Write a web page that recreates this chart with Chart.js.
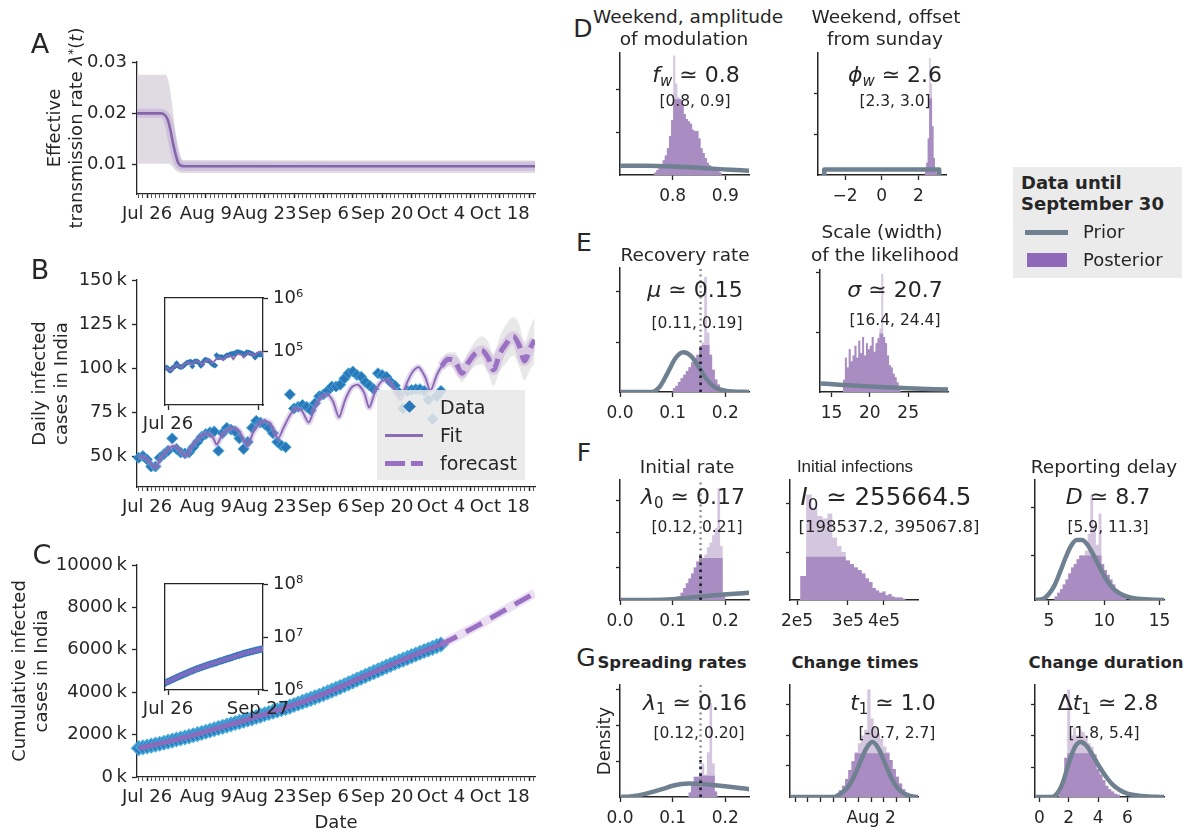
<!DOCTYPE html>
<html>
<head>
<meta charset="utf-8">
<script src="https://cdn.jsdelivr.net/npm/chart.js@4.4.0/dist/chart.umd.min.js"></script>
<style>
  body { margin: 0; background: #fff; }
  #fig { position: relative; width: 1197px; height: 834px; overflow: hidden;
         font-family: 'DejaVu Sans', sans-serif; color: #262626; }
  #fig canvas { position: absolute; }
  sub { font-size: 68%; vertical-align: -0.28em; line-height: 0; }
  sup { font-size: 68%; vertical-align: 0.45em; line-height: 0; }
</style>
</head>
<body>
<div id="fig"></div>
<script>
// ---------- left column, x = days after Jul 26 ----------
const dateLabels = ['Jul 26', 'Aug 9', 'Aug 23', 'Sep 6', 'Sep 20', 'Oct 4', 'Oct 18'];

// A: effective transmission rate
const rateDays      = [-2.4, 3.2, 4.2, 4.9, 5.5, 6.1, 6.8, 7.4, 8.1, 9.0, 92.4];
const rateMedian    = [0.0200, 0.0200, 0.0197, 0.0188, 0.0170, 0.0145, 0.0120, 0.0104, 0.0098, 0.0097, 0.0097];
const rateBandDays  = [-2.4, 4.3, 5.1, 6.0, 6.8, 7.6, 8.6, 92.4];
const rateBandUpper = [0.0275, 0.0275, 0.0262, 0.0215, 0.0160, 0.0122, 0.0109, 0.0108];
const rateBandLower = [0.0102, 0.0102, 0.0102, 0.0097, 0.0089, 0.0085, 0.0084, 0.0084];
const rateTicks  = [0.01, 0.02, 0.03];
const rateLabels = ['0.01', '0.02', '0.03'];

// B: daily new cases (thousands), one value per day starting two days before Jul 26
const firstDay = -2;
const dailyCases = [49, 50, 48, 44, 44, 49, 51, 53, 60, 54,
  52, 51.5, 52, 55, 58, 61, 62.5, 63.5, 64, 53,
  63, 66, 65, 64, 60, 54, 58, 66, 70, 69,
  68, 66, 63, 58, 56, 55, 85, 77, 78, 79,
  78, 76, 80, 84, 85, 87, 89.5, 89.5, 90.5, 94,
  97, 98, 96, 95, 92, 90, 88, 97, 96, 95,
  92, 90, 86, 77, 87, 87.5, 88, 88, 87, 82,
  71, 84, 87];
const fitDays  = [-2, -0.5, 0.6, 2.1, 3.3, 4.7, 5.9, 7.0, 8.3, 9.4, 10.5, 11.9, 13.3, 14.7, 15.8, 16.6, 17.9, 19.3,
  20.7, 22.0, 23.9, 25.2, 26.6, 28.0, 29.4, 31.2, 32.5, 34.0, 35.4, 36.9, 38.5, 39.9, 41.4, 42.9, 44.3, 45.7,
  47.2, 48.7, 50.2, 51.7, 52.9, 54.4, 55.9, 57.4, 58.9, 60.4, 61.8, 63.3, 64.7, 66.2, 67.5, 69.0, 70.1];
const fitCases = [50, 49, 46.5, 43.5, 49, 53, 55.5, 55, 52, 50, 55, 59, 62, 62.5, 60, 56.5, 62, 65,
  66, 64, 56, 63, 68, 70, 68.5, 60, 66, 73, 77, 75.5, 69, 77, 83, 85, 81, 72,
  82, 89, 90.5, 86, 77.5, 87, 92.5, 93, 88, 82, 91, 98, 100.5, 95, 87, 96, 101];
const forecastDays  = [70.1, 71.7, 73.3, 75.0, 76.5, 78.1, 79.7, 81.2, 82.5, 84.0, 85.6, 87.2, 88.6, 89.9, 91.2, 92.3];
const forecastCases = [101, 105, 104, 97, 103, 108, 110, 106, 99, 108, 114, 118, 113, 104, 111, 116];
const forecastUpper = [104, 109, 109, 102, 109, 115, 118, 115, 108, 118, 125, 129, 125, 115, 123, 129];
const forecastLower = [98, 101, 99, 92, 97, 101, 102, 97, 90, 98, 103, 107, 101, 93, 99, 103];
const casesTicks  = [50, 75, 100, 125, 150];
const casesLabels = ['50\u2009k', '75\u2009k', '100\u2009k', '125\u2009k', '150\u2009k'];

// C: cumulative cases (thousands), same days as dailyCases
const cumCases = [1360, 1398, 1440, 1482, 1525, 1570, 1615, 1667, 1718, 1768,
  1818, 1866, 1915, 1967, 2020, 2077, 2136, 2195, 2254, 2310,
  2367, 2424, 2485, 2545, 2601, 2657, 2710, 2765, 2828, 2893,
  2958, 3021, 3082, 3140, 3198, 3255, 3319, 3394, 3469, 3541,
  3613, 3685, 3758, 3834, 3912, 3992, 4074, 4157, 4241, 4327,
  4417, 4505, 4594, 4682, 4772, 4860, 4945, 5028, 5117, 5205,
  5291, 5375, 5457, 5537, 5617, 5699, 5781, 5862, 5944, 6017,
  6093, 6172, 6252];
const cumFitDays = [-2, 0, 10, 20, 31, 42, 53, 64, 70];
const cumFit     = [1360, 1440, 1915, 2485, 3140, 3912, 4860, 5781, 6252];
const cumForecastDays = [70, 74.3, 78.6, 82.8, 87.1, 92.3];
const cumForecast     = [6252, 6680, 7130, 7600, 8090, 8665];
const cumTicks  = [0, 2000, 4000, 6000, 8000, 10000];
const cumLabels = ['0\u2009k', '2000\u2009k', '4000\u2009k', '6000\u2009k', '8000\u2009k', '10000\u2009k'];

// insets (log scale)
const insetTicks   = [0, 63];
const insetLabelsB = ['Jul 26', ''];
const insetLabelsC = ['Jul 26', 'Sep 27'];

// ---------- right block: posterior histograms (height in % of panel) and priors ----------
const fwHist   = [2, 4, 6, 9, 12, 16, 22, 32, 45, 98, 75, 64, 62, 58, 50, 46, 44, 42, 37, 36, 36, 30, 22, 18, 14, 10, 8, 6, 5, 4, 3, 2];
const fwPriorX = [0.70, 0.75, 0.80, 0.85, 0.90, 0.945];
const fwPriorY = [7.5, 7.5, 7, 6, 4.5, 3.5];

const phiHist   = [3, 10, 30, 96, 75, 40, 14, 5, 2];
const phiPriorX = [-3.14, -3.14, 3.14, 3.14];
const phiPriorY = [0, 4.5, 4.5, 0];

const muHist   = [3, 5, 8, 11, 14, 17, 20, 24, 27, 30, 34, 40, 93, 48, 30, 18, 10, 6, 3];
const muPriorX = [0, 0.06, 0.075, 0.09, 0.105, 0.12, 0.135, 0.15, 0.165, 0.18, 0.2, 0.245];
const muPriorY = [0, 0, 4, 15, 27, 32, 29, 20, 10, 4, 1, 0];

const sigmaHist   = [10, 28, 20, 35, 25, 30, 38, 28, 42, 32, 45, 30, 40, 35, 38, 45, 33, 40, 44, 52, 97, 45, 40, 30, 22, 20, 15, 12, 8, 5];
const sigmaPriorX = [13.5, 16, 20, 25, 30.2];
const sigmaPriorY = [7, 6, 4.5, 3, 2];

const lam0Hist   = [3, 6, 10, 14, 18, 22, 27, 32, 38, 35, 38, 44, 48, 54, 60, 93, 45, 6];
const lam0PriorX = [0, 0.08, 0.1, 0.12, 0.15, 0.18, 0.21, 0.245];
const lam0PriorY = [0, 0.2, 0.6, 1.5, 2.8, 4, 5, 6];

const i0Hist = [20, 88, 77, 70, 68, 72, 52, 45, 40, 33, 30, 27, 25, 22, 18, 15, 10, 8, 6, 7, 4, 5, 3, 2, 2, 2, 1];

const delayHist   = [3, 6, 9, 13, 17, 22, 27, 30, 34, 37, 37, 41, 55, 88, 62, 46, 72, 30, 25, 21, 17, 13, 9, 6, 4, 2];
const delayPriorX = [3.75, 4.5, 5, 5.5, 6, 6.5, 7, 7.5, 8, 8.5, 9, 9.5, 10, 10.5, 11, 12, 13, 15.4];
const delayPriorY = [0, 1, 5, 12, 23, 35, 45, 50, 50, 46, 38, 29, 20, 13, 8, 3, 1, 0];

const lam1Hist   = [4, 10, 18, 18, 22, 30, 20, 40, 84, 30, 5];
const lam1PriorX = [0, 0.02, 0.05, 0.08, 0.1, 0.13, 0.16, 0.19, 0.22, 0.245];
const lam1PriorY = [0, 0.5, 3, 7, 10, 12, 11.5, 10, 8.5, 7];

// change time, in days after Jul 26 (Aug 2 = day 7)
const t1Hist   = [3, 6, 10, 16, 24, 32, 40, 48, 55, 60, 96, 70, 62, 57, 52, 45, 40, 33, 25, 18, 12, 7, 4];
const t1PriorX = [0.6, 4.1, 4.6, 5.1, 5.6, 6.1, 6.6, 7.1, 7.6, 8.1, 8.6, 9.1, 9.6, 10.1, 10.7];
const t1PriorY = [0, 0, 3, 8, 17, 30, 43, 49, 43, 30, 17, 8, 3, 1, 0];
const t1Ticks  = [1, 2, 3, 4, 5, 6, 7, 8, 9, 10];
const t1Labels = ['', '', '', '', '', '', 'Aug 2', '', '', ''];

const dtHist   = [5, 15, 35, 96, 55, 62, 55, 60, 58, 55, 48, 45, 38, 25, 20, 15, 10, 7, 5, 3, 2];
const dtPriorX = [-0.3, 0.8, 1.2, 1.6, 2, 2.4, 2.8, 3.2, 3.6, 4, 4.5, 5, 5.5, 6, 7, 8.5];
const dtPriorY = [0, 0, 3, 13, 30, 44, 49, 46, 38, 29, 19, 11, 6, 3, 1, 0];

const trueRate = 0.153;

// ---------- helpers ----------
const fig = document.getElementById('fig');
Chart.defaults.font.family = "'DejaVu Sans', sans-serif";
Chart.defaults.color = '#262626';

const INK = '#262626';
const BLUE = '#2a78b8', BLUE_EDGE = '#45a9dc';
const FIT = '#8c6bb5', FORECAST = '#9a70c2';
const PRIOR = '#6f8190', POST_DARK = '#a98cc2', POST_LIGHT = '#d4c6df';

const pts = (xs, ys, k = 1) => xs.map((x, i) => ({ x, y: ys[i] * k }));
const caseDays = dailyCases.map((v, i) => firstDay + i);
const allDays = []; for (let d = -2; d <= 92; d++) allDays.push(d);

function zeroPad(s) { s.paddingTop = s.paddingBottom = s.paddingLeft = s.paddingRight = 0; }

function place(rect, m) {
  const c = document.createElement('canvas');
  const w = rect[2] - rect[0] + m.pl + m.yl + m.yr + m.r;
  const h = rect[3] - rect[1] + m.t + m.xh;
  c.width = w; c.height = h;
  c.style.left = (rect[0] - m.yl - m.pl) + 'px';
  c.style.top = (rect[1] - m.t) + 'px';
  c.style.width = w + 'px'; c.style.height = h + 'px';
  fig.appendChild(c);
  return c;
}

function baseOptions(m, scales) {
  return {
    responsive: false, animation: false, events: [],
    layout: { padding: { left: m.pl, top: m.t, right: m.r, bottom: 0 } },
    plugins: { legend: { display: false }, tooltip: { enabled: false } },
    scales
  };
}

function timeX(h, title) {
  return {
    type: 'linear', min: -2.4, max: 92.4,
    afterBuildTicks: s => { s.ticks = allDays.map(v => ({ value: v })); },
    afterFit: s => { s.height = h; zeroPad(s); },
    grid: { drawOnChartArea: false, tickLength: 4, tickColor: INK,
            tickWidth: c => (c.tick && c.tick.value % 7 === 0 ? 1.5 : 0.8) },
    border: { color: INK, width: 1.3 },
    ticks: { autoSkip: false, maxRotation: 0, padding: 6, font: { size: 18 },
             callback: v => (v >= 0 && v % 14 === 0 ? dateLabels[v / 14] : '') },
    title: title ? { display: true, text: title, font: { size: 18 }, padding: 0 } : { display: false }
  };
}

function valueY(min, max, ticks, labels, width, title) {
  return {
    min, max,
    afterBuildTicks: s => { s.ticks = ticks.map(v => ({ value: v })); },
    afterFit: s => { s.width = width; zeroPad(s); },
    grid: { drawOnChartArea: false, tickLength: 5, tickColor: INK, tickWidth: 1.3 },
    border: { color: INK, width: 1.3 },
    ticks: { padding: 5, font: { size: 18 }, callback: (v, i) => labels[i] },
    title: title ? { display: true, text: title, font: { size: 18, lineHeight: 1.25 }, padding: 0 } : { display: false }
  };
}

function label(html, x, y, css, mode, parent) {
  const d = document.createElement('div');
  d.innerHTML = html;
  d.style.cssText = 'position:absolute;white-space:nowrap;line-height:1.2;' + (css || '');
  d.style.left = x + 'px'; d.style.top = y + 'px';
  d.style.transform = mode === 'left' ? 'translate(0,-50%)'
                    : mode === 'rot' ? 'translate(-50%,-50%) rotate(-90deg)'
                    : 'translate(-50%,-50%)';
  (parent || fig).appendChild(d);
  return d;
}
function box(x, y, w, h, css) {
  const d = document.createElement('div');
  d.style.cssText = `position:absolute;left:${x}px;top:${y}px;width:${w}px;height:${h}px;` + css;
  fig.appendChild(d);
  return d;
}

const whiteBox = {
  id: 'whiteBox',
  beforeDraw(ch) {
    const a = ch.chartArea, ctx = ch.ctx;
    ctx.save(); ctx.fillStyle = '#fff';
    ctx.fillRect(a.left, a.top, a.right - a.left, a.bottom - a.top);
    ctx.restore();
  }
};

// ---------- A ----------
const mA = { pl: 0, yl: 92, yr: 0, r: 25, t: 14, xh: 32 };
new Chart(place([137, 62, 535, 194], mA), {
  type: 'line',
  data: { datasets: [
    { data: pts(rateBandDays, rateBandUpper), fill: '+1', backgroundColor: 'rgba(214,206,216,0.75)',
      borderWidth: 0, pointRadius: 0, cubicInterpolationMode: 'monotone', order: 5 },
    { data: pts(rateBandDays, rateBandLower), fill: false, borderWidth: 0, pointRadius: 0,
      cubicInterpolationMode: 'monotone', order: 6 },
    { data: pts(rateDays, rateMedian), borderColor: 'rgba(160,130,200,0.28)', borderWidth: 9,
      pointRadius: 0, cubicInterpolationMode: 'monotone', order: 2 },
    { data: pts(rateDays, rateMedian), borderColor: '#8466a8', borderWidth: 2.6,
      pointRadius: 0, cubicInterpolationMode: 'monotone', order: 1 }
  ]},
  options: baseOptions(mA, {
    x: timeX(32),
    y: valueY(0.0043, 0.0300, rateTicks, rateLabels, 92, null)
  })
});
label('Effective<br>transmission rate <i>\u03bb</i><sup>*</sup>(<i>t</i>)', 65, 128,
      'font-size:18px;line-height:22px;text-align:center', 'rot');

// ---------- B ----------
const mB = { pl: 0, yl: 108, yr: 0, r: 25, t: 14, xh: 32 };
new Chart(place([137, 280, 535, 487], mB), {
  type: 'line',
  data: { datasets: [
    { data: pts(forecastDays, forecastUpper), fill: '+1', backgroundColor: 'rgba(210,210,210,0.5)',
      borderWidth: 0, pointRadius: 0, cubicInterpolationMode: 'monotone', order: 9 },
    { data: pts(forecastDays, forecastLower), fill: false, borderWidth: 0, pointRadius: 0,
      cubicInterpolationMode: 'monotone', order: 10 },
    { data: pts(forecastDays, forecastCases), borderColor: 'rgba(190,150,215,0.35)', borderWidth: 10,
      pointRadius: 0, cubicInterpolationMode: 'monotone', order: 8 },
    { data: pts(caseDays, dailyCases), showLine: false, pointStyle: 'rectRot', pointRadius: 5.5,
      pointBackgroundColor: BLUE, pointBorderColor: BLUE_EDGE, pointBorderWidth: 1, order: 4, clip: false },
    { data: pts(fitDays, fitCases), borderColor: 'rgba(175,140,210,0.35)', borderWidth: 6,
      pointRadius: 0, tension: 0.25, order: 3 },
    { data: pts(fitDays, fitCases), borderColor: FIT, borderWidth: 2, pointRadius: 0, tension: 0.25, order: 2 },
    { data: pts(forecastDays, forecastCases), borderColor: FORECAST, borderWidth: 5, borderDash: [14, 7],
      pointRadius: 0, cubicInterpolationMode: 'monotone', order: 1 }
  ]},
  options: baseOptions(mB, {
    x: timeX(32),
    y: valueY(32.4, 150, casesTicks, casesLabels, 108, ['Daily infected', 'cases in India'])
  })
});

// ---------- C ----------
const mC = { pl: 0, yl: 128, yr: 0, r: 25, t: 14, xh: 57 };
new Chart(place([137, 565, 535, 777], mC), {
  type: 'line',
  data: { datasets: [
    { data: pts(caseDays, cumCases), showLine: false, pointStyle: 'rectRot', pointRadius: 7,
      pointBackgroundColor: BLUE, pointBorderColor: BLUE_EDGE, pointBorderWidth: 1.5, order: 4, clip: false },
    { data: pts(cumFitDays, cumFit), borderColor: '#8a6cbc', borderWidth: 5, pointRadius: 0,
      cubicInterpolationMode: 'monotone', order: 2 },
    { data: pts(cumForecastDays, cumForecast), borderColor: 'rgba(190,150,215,0.3)', borderWidth: 9,
      pointRadius: 0, order: 3 },
    { data: pts(cumForecastDays, cumForecast), borderColor: FORECAST, borderWidth: 5, borderDash: [18, 10],
      pointRadius: 0, cubicInterpolationMode: 'monotone', order: 1 }
  ]},
  options: baseOptions(mC, {
    x: timeX(57, 'Date'),
    y: valueY(0, 10000, cumTicks, cumLabels, 128, ['Cumulative infected', 'cases in India'])
  })
});

// ---------- insets ----------
const mIn = { pl: 26, yl: 0, yr: 46, r: 4, t: 12, xh: 28 };
function insetOptions(ymin, ymax, yTicks, yLabels, xLabels) {
  return baseOptions(mIn, {
    x: { type: 'linear', min: -2.1, max: 66.5,
         afterBuildTicks: s => { s.ticks = insetTicks.map(v => ({ value: v })); },
         afterFit: s => { s.height = 28; zeroPad(s); },
         grid: { drawOnChartArea: false, tickLength: 5, tickColor: INK, tickWidth: 1.3 },
         border: { color: INK, width: 1.3 },
         ticks: { autoSkip: false, maxRotation: 0, padding: 4, font: { size: 18 }, callback: (v, i) => xLabels[i] } },
    xt: { type: 'linear', position: 'top', grid: { display: false }, ticks: { display: false },
          border: { color: INK, width: 1.3 }, afterFit: s => { s.height = 0; zeroPad(s); } },
    y: { type: 'logarithmic', position: 'right', min: ymin, max: ymax,
         afterBuildTicks: s => { s.ticks = yTicks.map(v => ({ value: v })); },
         afterFit: s => { s.width = 46; zeroPad(s); },
         grid: { drawOnChartArea: false, tickLength: 5, tickColor: INK, tickWidth: 1.3 },
         border: { color: INK, width: 1.3 },
         ticks: { padding: 5, font: { size: 18 }, callback: (v, i) => yLabels[i] } },
    yl: { type: 'linear', position: 'left', grid: { display: false }, ticks: { display: false },
          border: { color: INK, width: 1.3 }, afterFit: s => { s.width = 0; zeroPad(s); } }
  });
}
new Chart(place([165, 298, 263, 405], mIn), {
  type: 'line',
  data: { datasets: [
    { data: pts(caseDays, dailyCases, 1000), showLine: false, pointStyle: 'rectRot', pointRadius: 3,
      pointBackgroundColor: BLUE, pointBorderWidth: 0, order: 2 },
    { data: pts(fitDays, fitCases, 1000), borderColor: FIT, borderWidth: 1.8, pointRadius: 0, order: 1 }
  ]},
  options: insetOptions(1e4, 1e6, [1e5, 1e6], ['10\u2075', '10\u2076'], insetLabelsB),
  plugins: [whiteBox]
});
new Chart(place([165, 584, 263, 690], mIn), {
  type: 'line',
  data: { datasets: [
    { data: pts(caseDays, cumCases, 1000), showLine: false, pointStyle: 'rectRot', pointRadius: 4,
      pointBackgroundColor: BLUE, pointBorderWidth: 0, order: 2 },
    { data: pts(cumFitDays, cumFit, 1000), borderColor: '#7a6cc0', borderWidth: 4.5, pointRadius: 0,
      cubicInterpolationMode: 'monotone', order: 1 }
  ]},
  options: insetOptions(1e6, 1e8, [1e6, 1e7, 1e8], ['10\u2076', '10\u2077', '10\u2078'], insetLabelsC),
  plugins: [whiteBox]
});

// ---------- histogram panels ----------
const mH = { pl: 16, yl: 6, yr: 0, r: 14, t: 4, xh: 32 };
function histogram(p) {
  const end = { x: p.start + p.heights.length * p.width, y: 0 };
  const light = p.heights.map((h, i) => ({ x: p.start + i * p.width, y: h })).concat([end]);
  const dark = p.heights.map((h, i) => ({ x: p.start + i * p.width, y: Math.min(h, p.cap) })).concat([end]);
  const ds = [
    { data: light, stepped: 'before', fill: 'origin', backgroundColor: POST_LIGHT, borderWidth: 0, pointRadius: 0, order: 4 },
    { data: dark, stepped: 'before', fill: 'origin', backgroundColor: POST_DARK, borderWidth: 0, pointRadius: 0, order: 3 }
  ];
  if (p.priorX) {
    ds.push({ data: pts(p.priorX, p.priorY), borderColor: PRIOR, borderWidth: 4.5, pointRadius: 0,
              borderCapStyle: 'round', borderJoinStyle: 'round',
              cubicInterpolationMode: p.sharp ? 'default' : 'monotone', order: 1 });
  }
  if (p.ref !== undefined) {
    ds.push({ data: [{ x: p.ref, y: 0 }, { x: p.ref, y: 100 }], borderColor: '#8d8d8d', borderWidth: 2.4,
              borderDash: [2, 3.5], pointRadius: 0, order: 0 });
    ds.push({ data: [{ x: p.ref, y: 0 }, { x: p.ref, y: p.refLow }], borderColor: '#1c1c3a', borderWidth: 2.6,
              borderDash: [2.5, 4.5], pointRadius: 0, order: -1 });
  }
  new Chart(place(p.rect, mH), {
    type: 'line',
    data: { datasets: ds },
    options: baseOptions(mH, {
      x: { type: p.log ? 'logarithmic' : 'linear', min: p.xmin, max: p.xmax,
           afterBuildTicks: s => { s.ticks = p.xTicks.map(v => ({ value: v })); },
           afterFit: s => { s.height = 32; zeroPad(s); },
           grid: { drawOnChartArea: false, tickLength: 5, tickColor: INK, tickWidth: 1.3 },
           border: { color: INK, width: 1.5 },
           ticks: { autoSkip: false, maxRotation: 0, padding: 6, font: { size: 17 }, callback: (v, i) => p.xLabels[i] } },
      y: { min: 0, max: 100,
           afterBuildTicks: s => { s.ticks = p.yTicks.map(v => ({ value: v })); },
           afterFit: s => { s.width = 6; zeroPad(s); },
           grid: { drawOnChartArea: false, tickLength: 4, tickColor: INK, tickWidth: 1.3 },
           border: { color: INK, width: 1.5 },
           ticks: { display: false } }
    })
  });
}

const rateTickVals = [0, 0.1, 0.2], rateTickText = ['0.0', '0.1', '0.2'];
histogram({ rect: [620, 53, 749, 175], xmin: 0.70, xmax: 0.945, xTicks: [0.8, 0.9], xLabels: ['0.8', '0.9'],
  yTicks: [35, 70], start: 0.765, width: 0.004, heights: fwHist, cap: 62, priorX: fwPriorX, priorY: fwPriorY });
histogram({ rect: [818, 53, 946, 175], xmin: -3.48, xmax: 3.51, xTicks: [-2, 0, 2], xLabels: ['\u22122', '0', '2'],
  yTicks: [33, 67], start: 2.35, width: 0.08, heights: phiHist, cap: 63, priorX: phiPriorX, priorY: phiPriorY, sharp: true });
histogram({ rect: [620, 268, 749, 392], xmin: 0, xmax: 0.245, xTicks: rateTickVals, xLabels: rateTickText,
  yTicks: [40, 81], start: 0.10, width: 0.005, heights: muHist, cap: 38, priorX: muPriorX, priorY: muPriorY,
  ref: trueRate, refLow: 38 });
histogram({ rect: [820, 270, 948, 392], xmin: 13.5, xmax: 30.2, xTicks: [15, 20, 25], xLabels: ['15', '20', '25'],
  yTicks: [49, 98], start: 16.5, width: 0.25, heights: sigmaHist, cap: 48, priorX: sigmaPriorX, priorY: sigmaPriorY });
histogram({ rect: [620, 480, 749, 600], xmin: 0, xmax: 0.245, xTicks: rateTickVals, xLabels: rateTickText,
  yTicks: [27, 56, 83], start: 0.11, width: 0.005, heights: lam0Hist, cap: 35, priorX: lam0PriorX, priorY: lam0PriorY,
  ref: trueRate, refLow: 40 });
histogram({ rect: [790, 480, 918, 600], log: true, xmin: 1.89e5, xmax: 5.25e5, xTicks: [2e5, 3e5, 4e5],
  xLabels: ['2e5', '3e5', '4e5'], yTicks: [40, 80], start: 2.05e5, width: 0.1e5, heights: i0Hist, cap: 36 });
histogram({ rect: [1035, 480, 1164, 600], xmin: 3.75, xmax: 15.4, xTicks: [5, 10, 15], xLabels: ['5', '10', '15'],
  yTicks: [37, 77], start: 5.5, width: 0.25, heights: delayHist, cap: 37, priorX: delayPriorX, priorY: delayPriorY });
histogram({ rect: [620, 685, 749, 797], xmin: 0, xmax: 0.245, xTicks: rateTickVals, xLabels: rateTickText,
  yTicks: [32, 64, 96], start: 0.13, width: 0.005, heights: lam1Hist, cap: 19, priorX: lam1PriorX, priorY: lam1PriorY,
  ref: trueRate, refLow: 33 });
histogram({ rect: [790, 685, 918, 797], xmin: 0.6, xmax: 10.7, xTicks: t1Ticks, xLabels: t1Labels,
  yTicks: [28, 55, 83], start: 4.2, width: 0.25, heights: t1Hist, cap: 39, priorX: t1PriorX, priorY: t1PriorY });
histogram({ rect: [1035, 685, 1164, 797], xmin: -0.3, xmax: 8.5, xTicks: [0, 2, 4, 6], xLabels: ['0', '2', '4', '6'],
  yTicks: [26, 55, 83], start: 1.3, width: 0.2, heights: dtHist, cap: 39, priorX: dtPriorX, priorY: dtPriorY });

// ---------- text: panel letters, titles, annotations ----------
const L = 'font-size:27px';
label('A', 40, 44, L); label('B', 40, 270, L); label('C', 42, 555, L);
label('D', 583, 29, 'font-size:25px'); label('E', 584, 243, 'font-size:25px');
label('F', 584, 453, 'font-size:25px'); label('G', 586, 658, 'font-size:25px');

const T = 'font-size:18.5px';
label('Weekend, amplitude', 688, 17, T); label('of modulation', 684, 39, T);
label('Weekend, offset', 886, 17, T); label('from sunday', 885, 39, T);
label('Recovery rate', 685, 255, T);
label('Scale (width)', 882, 232, T); label('of the likelihood', 885, 255, T);
label('Initial rate', 687, 467, T);
label('Initial infections', 855, 467, "font-size:17px;font-family:'Liberation Sans',sans-serif");
label('Reporting delay', 1104, 467, T);
const TB = 'font-size:16.5px;font-weight:bold';
label('Spreading rates', 672, 663, TB); label('Change times', 855, 663, TB); label('Change duration', 1106, 663, TB);
label('Density', 604, 741, 'font-size:18px', 'rot');

const M = 'font-size:22px', CI = 'font-size:15.5px';
label('<i>f<sub>w</sub></i> \u2243 0.8', 696, 75, M);            label('[0.8, 0.9]', 695, 101, CI);
label('<i>\u03d5<sub>w</sub></i> \u2243 2.6', 895, 75, M);       label('[2.3, 3.0]', 895, 101, CI);
label('<i>\u03bc</i> \u2243 0.15', 695, 290, M);                 label('[0.11, 0.19]', 697, 323, CI);
label('<i>\u03c3</i> \u2243 20.7', 895, 290, M);                 label('[16.4, 24.4]', 895, 320, CI);
label('<i>\u03bb</i><sub>0</sub> \u2243 0.17', 693, 497, M);     label('[0.12, 0.21]', 697, 527, CI);
// the long I0 label is clipped at the left edge of its panel
const i0Clip = box(790, 478, 380, 40, 'overflow:hidden');
label('<i>I</i><sub>0</sub> \u2243 255664.5', 886 - 790, 19, 'font-size:24.5px', null, i0Clip);
label('[198537.2, 395067.8]', 889, 527, 'font-size:16.5px');
label('<i>D</i> \u2243 8.7', 1108, 497, M);                      label('[5.9, 11.3]', 1108, 527, CI);
label('<i>\u03bb</i><sub>1</sub> \u2243 0.16', 695, 703, M);     label('[0.12, 0.20]', 699, 733, CI);
label('<i>t</i><sub>1</sub> \u2243 1.0', 893, 703, M);           label('[-0.7, 2.7]', 897, 733, CI);
label('\u0394<i>t</i><sub>1</sub> \u2243 2.8', 1108, 703, M);    label('[1.8, 5.4]', 1104, 733, CI);

// legend for B
box(377, 390, 148, 90, 'background:rgba(232,232,232,0.85)');
box(405, 402, 9, 9, 'background:' + BLUE + ';transform:rotate(45deg)');
box(385, 434, 38, 2.5, 'background:' + FIT);
box(385, 461, 20, 5, 'background:' + FORECAST);
box(411, 461, 12, 5, 'background:' + FORECAST);
label('Data', 440, 407, 'font-size:19px', 'left');
label('Fit', 440, 435, 'font-size:19px', 'left');
label('forecast', 440, 463, 'font-size:19px', 'left');

// legend for the distributions
box(1013, 167, 169, 111, 'background:#ebebeb');
label('Data until<br>September 30', 1021, 193, 'font-size:18px;font-weight:bold;line-height:21px', 'left');
box(1025, 230, 43, 4.5, 'background:' + PRIOR);
label('Prior', 1083, 232, 'font-size:18px', 'left');
box(1027, 253, 40, 14, 'background:#9068b8');
label('Posterior', 1083, 260, 'font-size:18px', 'left');
</script>
</body>
</html>
